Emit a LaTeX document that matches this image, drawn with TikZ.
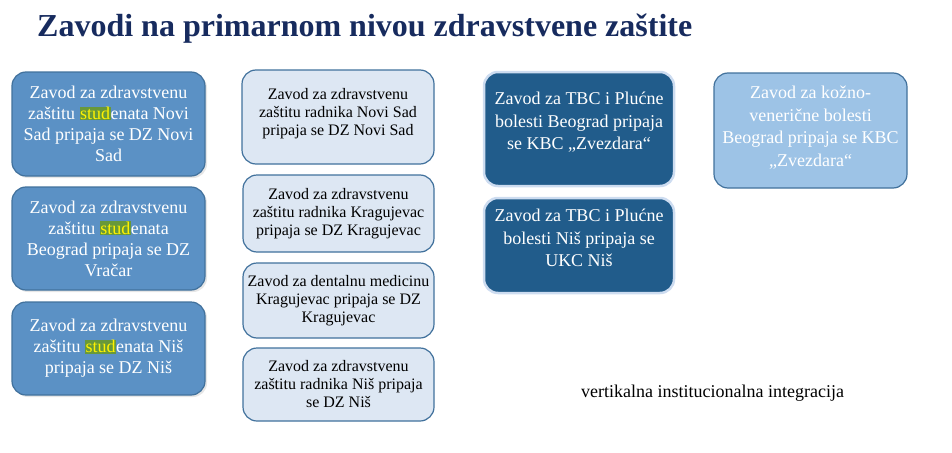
\documentclass[tikz,border=0pt]{standalone}
\usepackage{fontspec}
\setmainfont{Liberation Serif}
\usepackage{xcolor}
\usepackage{tikz}
\usetikzlibrary{shadows}

\definecolor{titleblue}{RGB}{23,43,94}
\definecolor{leftfill}{RGB}{91,145,197}
\definecolor{edgeblue}{RGB}{65,113,156}
\definecolor{midfill}{RGB}{221,231,243}
\definecolor{darkfill}{RGB}{33,92,139}
\definecolor{glowblue}{RGB}{205,220,240}
\definecolor{lightfill}{RGB}{157,195,230}
\definecolor{hlgreen}{RGB}{104,152,58}

\newcommand{\hlstud}{{\setlength{\fboxsep}{0.5pt}\colorbox{hlgreen}{\textcolor{yellow}{stud}}}}

\begin{document}
\begin{tikzpicture}[x=1pt, y=-1pt,
    leftbox/.style={draw=edgeblue, line width=1.2pt, fill=leftfill, rounded corners=14pt,
        text=white, align=center, font=\fontsize{18}{21}\selectfont,
        drop shadow={opacity=0.2, shadow xshift=2pt, shadow yshift=-2pt}},
    midbox/.style={draw=edgeblue, line width=1.2pt, fill=midfill, rounded corners=14pt,
        text=black, align=center, font=\fontsize{16}{18}\selectfont},
    darkbox/.style={draw=glowblue, line width=2.5pt, fill=darkfill, rounded corners=14pt,
        text=white, align=center, font=\fontsize{18}{22.5}\selectfont},
    lightbox/.style={draw=edgeblue, line width=1.2pt, fill=lightfill, rounded corners=14pt,
        text=white, align=center, font=\fontsize{18}{22.5}\selectfont}]
    \useasboundingbox (0,0) rectangle (952,452);

    % Title
    \node[anchor=base west, inner sep=0, text=titleblue, font=\fontsize{32}{36}\selectfont\bfseries]
        (title) at (37,37) {Zavodi na primarnom nivou zdravstvene zaštite};

    % Left column
    \node[leftbox, minimum width=193, minimum height=104] (sns) at (108.5,124)
        {Zavod za zdravstvenu\\zaštitu \hlstud enata Novi\\Sad pripaja se DZ Novi\\Sad};
    \node[leftbox, minimum width=193, minimum height=103] (sbg) at (108.5,238.5)
        {Zavod za zdravstvenu\\zaštitu \hlstud enata\\Beograd pripaja se DZ\\Vračar};
    \node[leftbox, minimum width=193, minimum height=93] (sni) at (108.5,348.5)
        {Zavod za zdravstvenu\\zaštitu \hlstud enata Niš\\pripaja se DZ Niš};

    % Middle column
    \node[midbox, minimum width=192, minimum height=94] (rns) at (338,117)
        {Zavod za zdravstvenu\\zaštitu radnika Novi Sad\\pripaja se DZ Novi Sad\\[-8pt]};
    \node[midbox, minimum width=191, minimum height=77] (rkg) at (338.5,213.5)
        {Zavod za zdravstvenu\\zaštitu radnika Kragujevac\\pripaja se DZ Kragujevac};
    \node[midbox, minimum width=191, minimum height=75] (dkg) at (338.5,300.5)
        {Zavod za dentalnu medicinu\\Kragujevac pripaja se DZ\\Kragujevac};
    \node[midbox, minimum width=191, minimum height=73] (rni) at (338.5,384.5)
        {Zavod za zdravstvenu\\zaštitu radnika Niš pripaja\\se DZ Niš};

    % Right column
    \node[darkbox, minimum width=190, minimum height=114] (tbg) at (579,129)
        {Zavod za TBC i Plućne\\bolesti Beograd pripaja\\se KBC „Zvezdara“\\[-6.5pt]};
    \node[darkbox, minimum width=190, minimum height=95] (tni) at (579,245.5)
        {Zavod za TBC i Plućne\\bolesti Niš pripaja se\\UKC Niš\\[-7.5pt]};
    \node[lightbox, minimum width=193, minimum height=115] (kvb) at (810.5,130.5)
        {Zavod za kožno-\\venerične bolesti\\Beograd pripaja se KBC\\„Zvezdara“\\[-13.5pt]};

    % Note
    \node[anchor=base west, inner sep=0, font=\fontsize{18}{21}\selectfont]
        (note) at (581,397) {vertikalna institucionalna integracija};
\end{tikzpicture}
\end{document}
